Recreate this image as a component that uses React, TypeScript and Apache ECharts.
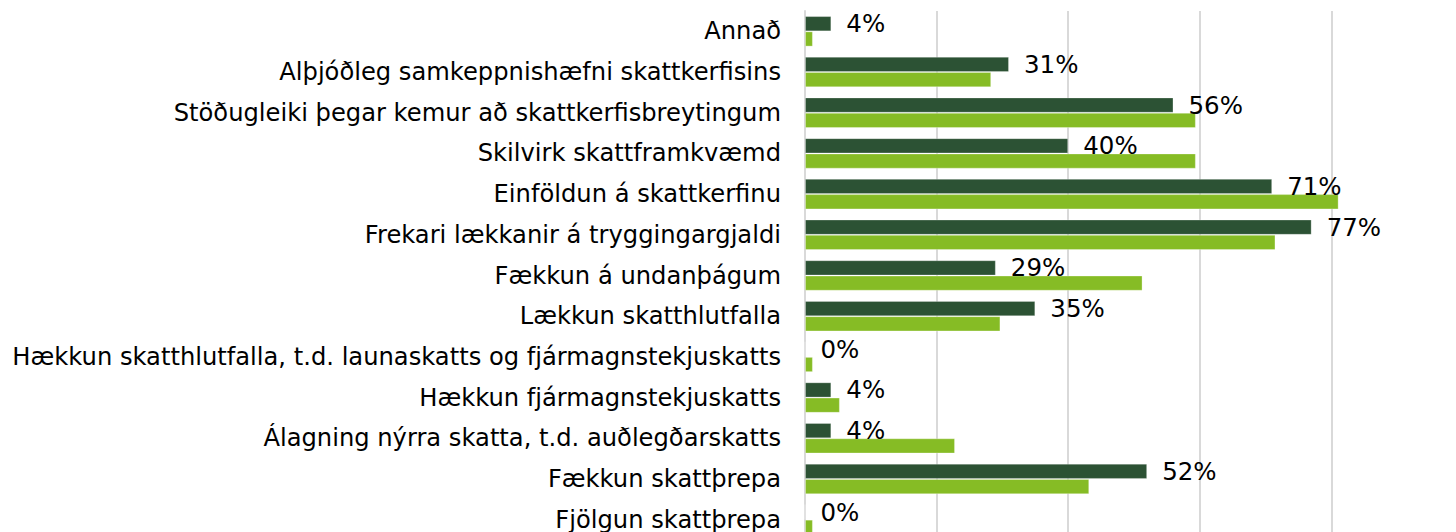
import React, { useEffect, useRef } from "react";
import * as echarts from "echarts";

const categories = [
  "Annað",
  "Alþjóðleg samkeppnishæfni skattkerfisins",
  "Stöðugleiki þegar kemur að skattkerfisbreytingum",
  "Skilvirk skattframkvæmd",
  "Einföldun á skattkerfinu",
  "Frekari lækkanir á tryggingargjaldi",
  "Fækkun á undanþágum",
  "Lækkun skatthlutfalla",
  "Hækkun skatthlutfalla, t.d. launaskatts og fjármagnstekjuskatts",
  "Hækkun fjármagnstekjuskatts",
  "Álagning nýrra skatta, t.d. auðlegðarskatts",
  "Fækkun skattþrepa",
  "Fjölgun skattþrepa",
];

const darkValues = [4, 31, 56, 40, 71, 77, 29, 35, 0, 4, 4, 52, 0];
const lightValues = [1.2, 28.3, 59.4, 59.4, 81.1, 71.5, 51.3, 29.7, 1.2, 5.3, 22.8, 43.2, 1.2];

const DARK = "#2c5234";
const LIGHT = "#86bc25";
const FONT = "DejaVu Sans";

export default function App() {
  const ref = useRef<HTMLDivElement>(null);
  useEffect(() => {
    if (!ref.current) return;
    const chart = echarts.init(ref.current, undefined, { renderer: "svg" });
    chart.setOption({
      animation: false,
      grid: { left: 805, right: 7, top: 11, bottom: 8, containLabel: false },
      xAxis: {
        type: "value",
        min: 0,
        max: 100,
        interval: 20,
        axisLabel: { show: false },
        axisLine: { show: false },
        axisTick: { show: false },
        splitLine: { show: true, lineStyle: { color: "#d9d9d9", width: 2 } },
      },
      yAxis: {
        type: "category",
        data: categories,
        inverse: true,
        axisTick: { show: false },
        axisLine: { show: true, lineStyle: { color: "#d9d9d9", width: 2 } },
        axisLabel: {
          margin: 24,
          fontFamily: FONT,
          fontSize: 24.2,
          color: "#000",
        },
      },
      series: [
        {
          type: "bar",
          data: darkValues,
          barGap: "0%",
          barCategoryGap: "25%",
          itemStyle: { color: DARK, borderColor: "rgba(255,255,255,0.25)", borderWidth: 1 },
          label: {
            show: true,
            position: "right",
            distance: 15,
            formatter: (p: any) => `${p.value}%`,
            fontFamily: FONT,
            fontSize: 24.5,
            color: "#000",
          },
        },
        {
          type: "bar",
          data: lightValues,
          barGap: "0%",
          barCategoryGap: "25%",
          itemStyle: { color: LIGHT, borderColor: "rgba(255,255,255,0.3)", borderWidth: 1 },
        },
      ],
    });
    return () => chart.dispose();
  }, []);
  return (
    <div
      ref={ref}
      style={{ position: "fixed", left: 0, top: 0, width: 1470, height: 548, background: "#fff" }}
    />
  );
}
